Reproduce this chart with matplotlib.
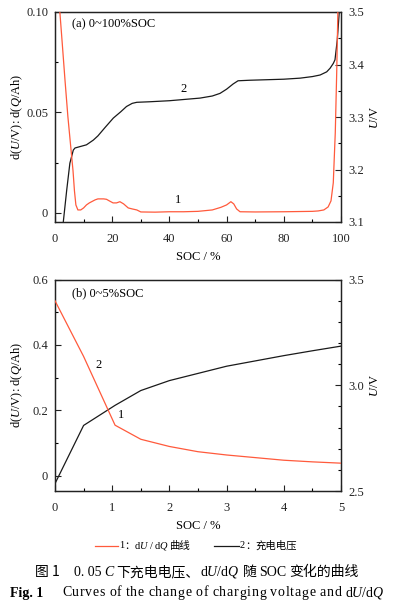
import matplotlib
matplotlib.use("Agg")
import matplotlib.pyplot as plt
from matplotlib.ticker import MultipleLocator, FixedLocator
from matplotlib.lines import Line2D

plt.rcParams['font.family'] = ['Liberation Serif', 'Noto Sans CJK SC', 'DejaVu Sans']
plt.rcParams['mathtext.fontset'] = 'custom'
plt.rcParams['mathtext.rm'] = 'Liberation Serif'
plt.rcParams['mathtext.it'] = 'Liberation Serif:italic'

RED = '#ff5a3c'
BLACK = '#1a1a1a'

# ---- panel (a): 0~100% SOC ----
soc_a_red = [1.7, 2.5, 3.5, 4.5, 5.5, 6.3, 6.8, 7.3, 8.0, 9.0, 10, 11, 12, 14, 15, 17, 18,
             19, 20.3, 21.5, 22.7, 24, 25.6, 27, 28.6, 30, 35, 40, 45, 50, 55, 58, 60, 61.5,
             62.5, 63.5, 64.7, 70, 80, 90, 92, 94, 95.5, 96.5, 97.3, 98.0, 98.5, 98.9]
dudq_a = [0.1, 0.085, 0.066, 0.048, 0.033, 0.021, 0.011, 0.004, 0.0015, 0.0015, 0.0025, 0.004,
          0.005, 0.0065, 0.007, 0.007, 0.0068, 0.006, 0.005, 0.005, 0.0056, 0.0045, 0.0025,
          0.002, 0.0015, 0.0005, 0.0004, 0.0006, 0.0006, 0.0008, 0.0015, 0.0028, 0.004, 0.0056,
          0.0045, 0.002, 0.0006, 0.0005, 0.0006, 0.0008, 0.001, 0.0015, 0.003, 0.006, 0.015,
          0.04, 0.07, 0.1]

soc_a_blk = [2.9, 4.1, 5.2, 6.4, 7.0, 9.0, 11, 13.4, 15, 17.5, 20.4, 23, 25, 27, 28.6, 33, 40,
             50.7, 55, 57.7, 60, 62.3, 64, 68, 74, 80, 85.7, 90, 92.7, 95, 96.2, 97.3, 97.9,
             98.7, 99.4]
volt_a = [3.1, 3.161, 3.212, 3.237, 3.241, 3.244, 3.247, 3.256, 3.264, 3.28, 3.298, 3.31,
          3.32, 3.326, 3.328, 3.329, 3.331, 3.336, 3.34, 3.345, 3.353, 3.363, 3.369, 3.37,
          3.371, 3.372, 3.374, 3.377, 3.38, 3.386, 3.393, 3.402, 3.409, 3.447, 3.5]

# ---- panel (b): 0~5% SOC ----
soc_b = [0, 0.5, 1.05, 1.5, 2.0, 2.5, 3.0, 3.5, 4.0, 4.5, 5.0]
dudq_b = [0.535, 0.365, 0.155, 0.112, 0.09, 0.074, 0.064, 0.056, 0.048, 0.043, 0.039]
volt_b = [2.535, 2.81, 2.905, 2.975, 3.022, 3.056, 3.09, 3.115, 3.14, 3.163, 3.185]

xticks_a = [0, 20, 40, 60, 80, 100]
yticks_a = [0, 0.05, 0.10]
yticklabels_a = ['0', '0.05', '0.10']
rticks_a = [3.1, 3.2, 3.3, 3.4, 3.5]
xticks_b = [0, 1, 2, 3, 4, 5]
yticks_b = [0, 0.2, 0.4, 0.6]
yticklabels_b = ['0', '0.2', '0.4', '0.6']
rticks_b = [2.5, 3.0, 3.5]

FS = 9
fig = plt.figure(figsize=(3.94, 6.05), dpi=100)

W, H = 394.0, 605.0
def rect(l, r, t, b):
    return [l / W, 1 - b / H, (r - l) / W, (b - t) / H]

def style(ax):
    ax.tick_params(direction='in', length=4, width=0.8, labelsize=FS, colors='#222222', pad=5)
    ax.tick_params(axis='x', pad=8)
    ax.tick_params(which='minor', direction='in', length=2.5, width=0.8)
    for s in ax.spines.values():
        s.set_linewidth(0.9)
        s.set_color('#222222')

ylabel_txt = r'd($\mathit{U}$/V): d($\mathit{Q}$/Ah)'
ulabel_txt = r'$\mathit{U}$/V'

# panel a
ax1 = fig.add_axes(rect(55, 341, 12, 222))
ax1.plot(soc_a_red, dudq_a, color=RED, lw=0.9, zorder=3)
ax1.set_xlim(0, 100)
ax1.set_ylim(-0.0045, 0.1)
ax1.set_xticks(xticks_a)
ax1.xaxis.set_minor_locator(MultipleLocator(10))
ax1.set_yticks(yticks_a)
ax1.set_yticklabels(yticklabels_a)
ax1.yaxis.set_minor_locator(FixedLocator([0.025, 0.075]))
ax1.set_xlabel('SOC / %', fontsize=FS, labelpad=4)
ax1.set_ylabel(ylabel_txt, fontsize=FS)
ax1.yaxis.set_label_coords(-0.105, 0.5)
style(ax1)
ax1r = ax1.twinx()
ax1r.plot(soc_a_blk, volt_a, color=BLACK, lw=0.9, zorder=2)
ax1r.set_ylim(3.1, 3.5)
ax1r.set_yticks(rticks_a)
ax1r.yaxis.set_minor_locator(MultipleLocator(0.05))
ax1r.set_ylabel(ulabel_txt, fontsize=FS, labelpad=4)
style(ax1r)
ax1.set_zorder(ax1r.get_zorder() + 1)
ax1.patch.set_visible(False)
ax1.text(0.06, 0.94, '(a) 0~100%SOC', transform=ax1.transAxes, fontsize=FS, va='center')
ax1.text(45, 0.0615, '2', fontsize=FS, ha='center', va='center')
ax1.text(43, 0.0065, '1', fontsize=FS, ha='center', va='center')

# panel b
ax2 = fig.add_axes(rect(55, 341, 279.5, 491))
ax2.plot(soc_b, dudq_b, color=RED, lw=0.9, zorder=3)
ax2.set_xlim(0, 5)
ax2.set_ylim(-0.046, 0.6)
ax2.set_xticks(xticks_b)
ax2.xaxis.set_minor_locator(MultipleLocator(0.5))
ax2.set_yticks(yticks_b)
ax2.set_yticklabels(yticklabels_b)
ax2.yaxis.set_minor_locator(MultipleLocator(0.1))
ax2.set_xlabel('SOC / %', fontsize=FS, labelpad=4)
ax2.set_ylabel(ylabel_txt, fontsize=FS)
ax2.yaxis.set_label_coords(-0.105, 0.5)
style(ax2)
ax2r = ax2.twinx()
ax2r.plot(soc_b, volt_b, color=BLACK, lw=0.9, zorder=2)
ax2r.set_ylim(2.5, 3.5)
ax2r.set_yticks(rticks_b)
ax2r.yaxis.set_minor_locator(MultipleLocator(0.1))
ax2r.set_ylabel(ulabel_txt, fontsize=FS, labelpad=4)
style(ax2r)
ax2.set_zorder(ax2r.get_zorder() + 1)
ax2.patch.set_visible(False)
ax2.text(0.06, 0.935, '(b) 0~5%SOC', transform=ax2.transAxes, fontsize=FS, va='center')
ax2.text(0.77, 0.34, '2', fontsize=FS, ha='center', va='center')
ax2.text(1.15, 0.185, '1', fontsize=FS, ha='center', va='center')

renderer = fig.canvas.get_renderer()
SERIF = ['Liberation Serif', 'Noto Sans CJK SC']
CJK = ['Noto Sans CJK SC', 'Liberation Serif']

def make_pieces(pieces, y_px):
    texts, widths = [], []
    for s, kw, gap in pieces:
        t = fig.text(0, 1 - y_px / H, s, va='center', ha='left', **kw)
        widths.append(t.get_window_extent(renderer).width)
        texts.append((t, gap))
    return texts, widths

def place_seq(pieces, x_px, y_px, ha='left'):
    texts, widths = make_pieces(pieces, y_px)
    total = sum(widths) + sum(g for _, g in texts[:-1])
    x = x_px if ha == 'left' else x_px - total / 2
    for (t, gap), w in zip(texts, widths):
        t.set_x(x / W)
        x += w + gap

# legend
LFS = 7.5
fig.add_artist(Line2D([95 / W, 118 / W], [1 - 546 / H] * 2, color=RED, lw=0.9))
fig.add_artist(Line2D([214 / W, 239 / W], [1 - 546 / H] * 2, color=BLACK, lw=0.9))
place_seq([('1', dict(fontsize=LFS, family=SERIF), 0),
           ('：', dict(fontsize=LFS, family=CJK), 0),
           (r'd$\mathit{U}$ / d$\mathit{Q}$', dict(fontsize=LFS, family=SERIF), 0),
           ('曲线', dict(fontsize=LFS, family=CJK), 0)], 119, 546)
place_seq([('2', dict(fontsize=LFS, family=SERIF), 0),
           ('：', dict(fontsize=LFS, family=CJK), 0),
           ('充电电压', dict(fontsize=LFS, family=CJK), 0)], 240, 546)

# captions
CFS = 10
place_seq([('图 1', dict(fontsize=CFS, family=CJK), 14),
           ('0. 05', dict(fontsize=CFS, family=SERIF), 3),
           ('C', dict(fontsize=CFS, family=SERIF, style='italic'), 3),
           ('下充电电压、', dict(fontsize=CFS, family=CJK), 0),
           (r'd$\mathit{U}$/d$\mathit{Q}$', dict(fontsize=CFS, family=SERIF), 3),
           ('随', dict(fontsize=CFS, family=CJK), 3),
           ('SOC', dict(fontsize=CFS, family=SERIF), 3),
           ('变化的曲线', dict(fontsize=CFS, family=CJK), 0)], 197, 572, ha='center')
fig.text(10 / W, 1 - 593 / H, 'Fig. 1', fontsize=CFS, ha='left', va='center', weight='bold')

# letter-spaced English caption: each letter placed with uniform extra spacing
eng_words = ['Curves', 'of', 'the', 'change', 'of', 'charging', 'voltage', 'and']
tail = r'd$\mathit{U}$/d$\mathit{Q}$'
y_eng = 1 - 593 / H
items = []
for wi, word in enumerate(eng_words):
    for ci, ch in enumerate(word):
        t = fig.text(0, y_eng, ch, fontsize=CFS, family=SERIF, va='center', ha='left')
        items.append([t, t.get_window_extent(renderer).width, ci == len(word) - 1])
t = fig.text(0, y_eng, tail, fontsize=CFS, family=SERIF, va='center', ha='left')
items.append([t, t.get_window_extent(renderer).width, True])
space_w = CFS * 100 / 72 * 0.25
n_words = len(eng_words)
x0, x1 = 62.0, 385.0
natural = sum(w for _, w, _ in items) + space_w * n_words
n_gaps = len(items) - 1
extra = (x1 - x0 - natural) / n_gaps
x = x0
for t, w, end in items:
    t.set_x(x / W)
    x += w + extra + (space_w if end else 0)

fig.savefig('out.png', dpi=100)
